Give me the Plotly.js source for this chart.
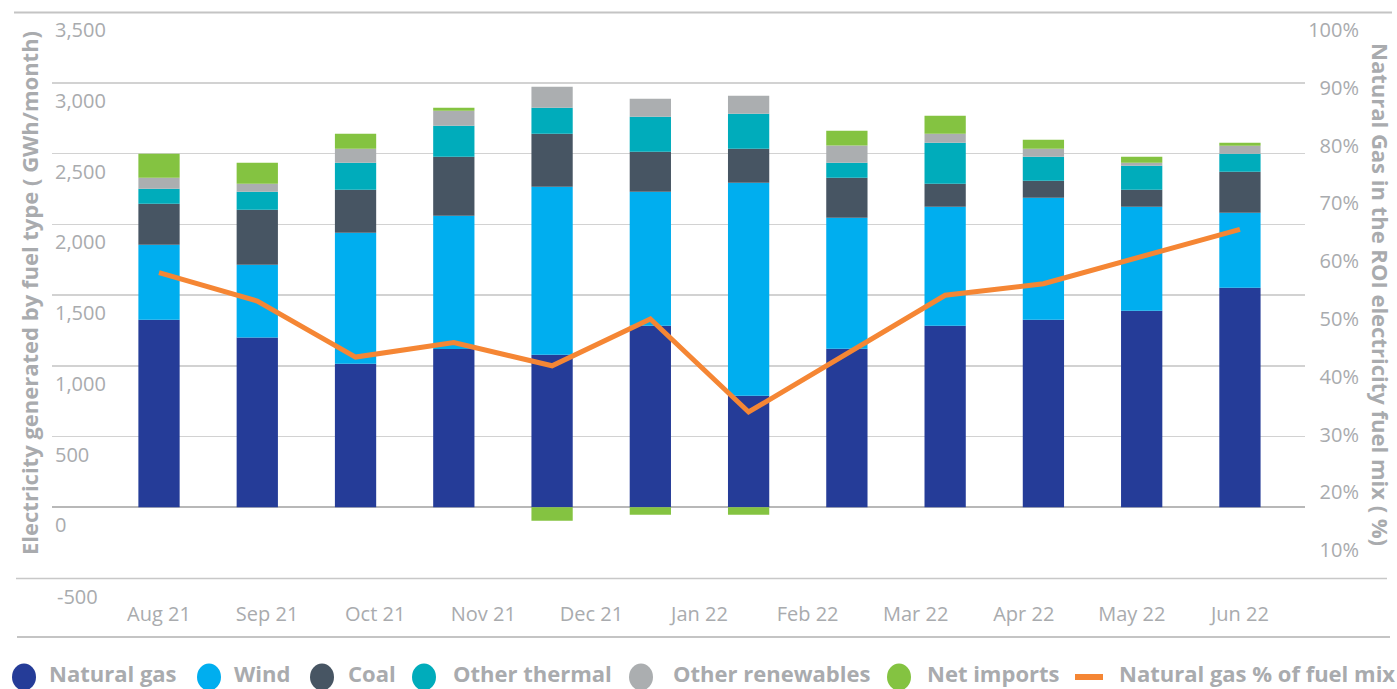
<!DOCTYPE html>
<html>
<head>
<meta charset="utf-8">
<script src="https://cdn.plot.ly/plotly-3.0.1.min.js"></script>
<style>
  html, body { margin: 0; padding: 0; background: #ffffff; }
  #chart { width: 1397px; height: 689px; }
</style>
</head>
<body>
<div id="chart"></div>
<script>
// ---- Data ----
const barMonths = ['Jul 21','Aug 21','Sep 21','Oct 21','Nov 21','Dec 21','Jan 22','Feb 22','Mar 22','Apr 22','May 22','Jun 22'];
const tickLabels = ['Aug 21','Sep 21','Oct 21','Nov 21','Dec 21','Jan 22','Feb 22','Mar 22','Apr 22','May 22','Jun 22'];

const naturalGas      = [1325, 1200, 1014, 1118, 1078, 1283,  788, 1120, 1283, 1325, 1389, 1551];
const wind            = [ 530,  514,  926,  942, 1187,  947, 1505,  926,  841,  862,  735,  530];
const coal            = [ 290,  388,  304,  417,  374,  282,  240,  282,  162,  120,  120,  290];
const otherThermal    = [ 106,  128,  191,  219,  184,  247,  248,  107,  290,  170,  169,  127];
const otherRenewables = [  78,   56,   98,  106,  149,  128,  127,  122,   63,   56,   22,   56];
const netImports      = [ 170,  149,  106,   21,  -96,  -53,  -53,  104,  127,   64,   42,   22];
const gasShare        = [0.549, 0.500, 0.403, 0.428, 0.388, 0.469, 0.308, 0.409, 0.510, 0.530, 0.578, 0.624];

const seriesNames = ['Natural gas','Wind','Coal','Other thermal','Other renewables','Net imports'];
const lineName = 'Natural gas % of fuel mix';
const yMin = -500, yMax = 3500;

// ---- Styles ----
const colors = ['#253C98','#00AEEF','#475563','#00ACBB','#ABAEB0','#84C341'];
const lineColor = '#F58634';
const textGray = '#A9ABAE';
const W = 1397, H = 689;
const M = {l: 52, r: 20, t: 12, b: 111};
const plotW = W - M.l - M.r, plotH = H - M.t - M.b;
const px2x = p => (p - M.l) / plotW;
const px2y = p => (H - M.b - p) / plotH;

const xIdx = barMonths.map((_, i) => i);
const seriesValues = [naturalGas, wind, coal, otherThermal, otherRenewables, netImports];

const traces = seriesValues.map((vals, k) => ({
  type: 'bar', name: seriesNames[k], x: xIdx, y: vals,
  customdata: barMonths, textposition: 'none',
  hovertemplate: '%{customdata}: %{y}<extra>' + seriesNames[k] + '</extra>',
  marker: {color: colors[k], line: {width: 0}}, width: 0.42, showlegend: false
}));
traces.push({
  type: 'scatter', mode: 'lines', name: lineName, x: xIdx, y: gasShare, yaxis: 'y2',
  line: {color: lineColor, width: 5}, showlegend: false
});

const tickVals = tickLabels.map((_, i) => i * 1.1);
const tickFont = {family: 'Open Sans', size: 20, color: textGray};

// legend drawn as shapes + text
const legendItems = [
  {name: seriesNames[0], mx: 24,  tx: 47,   color: colors[0]},
  {name: seriesNames[1], mx: 209, tx: 232,  color: colors[1]},
  {name: seriesNames[2], mx: 322, tx: 346,  color: colors[2]},
  {name: seriesNames[3], mx: 424, tx: 451,  color: colors[3]},
  {name: seriesNames[4], mx: 641, tx: 671,  color: colors[4]},
  {name: seriesNames[5], mx: 899, tx: 925,  color: colors[5]},
];
const legY = 677;
const shapes = [];
const annotations = [];
legendItems.forEach(it => {
  shapes.push({type: 'circle', xref: 'paper', yref: 'paper',
    x0: px2x(it.mx - 12), x1: px2x(it.mx + 12), y0: px2y(legY - 13.5), y1: px2y(legY + 13.5),
    fillcolor: it.color, line: {width: 0}});
  annotations.push({xref: 'paper', yref: 'paper', x: px2x(it.tx), y: px2y(legY - 4), xanchor: 'left', yanchor: 'middle',
    text: it.name, showarrow: false, font: {family: 'Open Sans', size: 22, color: textGray, weight: 700}});
});
shapes.push({type: 'line', xref: 'paper', yref: 'paper', x0: px2x(1075), x1: px2x(1103), y0: px2y(legY), y1: px2y(legY),
  line: {color: lineColor, width: 6}});
annotations.push({xref: 'paper', yref: 'paper', x: px2x(1117), y: px2y(legY - 4), xanchor: 'left', yanchor: 'middle',
  text: lineName, showarrow: false, font: {family: 'Open Sans', size: 22, color: textGray, weight: 700}});

// lowest left-axis label (sits below the plot floor, like the reference)
annotations.push({xref: 'paper', yref: 'y', x: px2x(55), y: yMin, yshift: -18, xanchor: 'left', yanchor: 'middle',
  text: (yMin).toLocaleString('en-US'), showarrow: false, font: tickFont});

// frame lines
shapes.push({type: 'line', xref: 'paper', yref: 'paper', x0: px2x(14), x1: px2x(1392), y0: px2y(12.5), y1: px2y(12.5), line: {color: '#C4C4C4', width: 2}});
shapes.push({type: 'line', xref: 'paper', yref: 'paper', x0: px2x(16), x1: px2x(1387), y0: px2y(578.5), y1: px2y(578.5), line: {color: '#C8C8C8', width: 1.5}});
shapes.push({type: 'line', xref: 'paper', yref: 'paper', x0: px2x(17), x1: px2x(1390), y0: px2y(637), y1: px2y(637), line: {color: '#C4C4C4', width: 2}});

// axis titles
annotations.push({xref: 'paper', yref: 'paper', x: px2x(29), y: px2y(293), xanchor: 'center', yanchor: 'middle',
  text: 'Electricity generated by fuel type ( GWh/month)', textangle: -90, showarrow: false,
  font: {family: 'Open Sans', size: 22, color: textGray, weight: 700}});
annotations.push({xref: 'paper', yref: 'paper', x: px2x(1381), y: px2y(295), xanchor: 'center', yanchor: 'middle',
  text: 'Natural Gas in the ROI electricity fuel mix ( %)', textangle: 90, showarrow: false,
  font: {family: 'Open Sans', size: 22, color: textGray, weight: 700}});

const layout = {
  width: W, height: H,
  margin: {l: M.l, r: M.r, t: M.t, b: M.b, pad: 0},
  paper_bgcolor: '#ffffff', plot_bgcolor: 'rgba(0,0,0,0)',
  barmode: 'relative', bargap: 0.58,
  showlegend: false,
  xaxis: {
    domain: [0, px2x(1305)], range: [-1.089, 11.662], tickmode: 'array', tickvals: tickVals, ticktext: tickLabels,
    showgrid: false, zeroline: false, showline: false, ticks: '', tickfont: tickFont, ticklabelstandoff: 22, fixedrange: true
  },
  yaxis: {
    range: [yMin, yMax], tickmode: 'linear', tick0: 0, dtick: 500, tickformat: ',',
    gridcolor: '#D2D2D2', gridwidth: 1.5, zeroline: true, zerolinecolor: '#B8B8B8', zerolinewidth: 2,
    showline: false, ticks: '', ticklabelposition: 'inside', ticklabelshift: 18, tickfont: tickFont
  },
  yaxis2: {
    overlaying: 'y', side: 'right', anchor: 'free', position: px2x(1362),
    range: [0.0208, 1.0], tickmode: 'linear', tick0: 0, dtick: 0.1, tickformat: '.0%',
    showgrid: false, zeroline: false, showline: false, ticks: '', ticklabelposition: 'inside', ticklabelshift: 18, tickfont: tickFont
  },
  shapes: shapes,
  annotations: annotations
};

Plotly.newPlot('chart', traces, layout, {displayModeBar: false, staticPlot: true});
</script>
</body>
</html>
